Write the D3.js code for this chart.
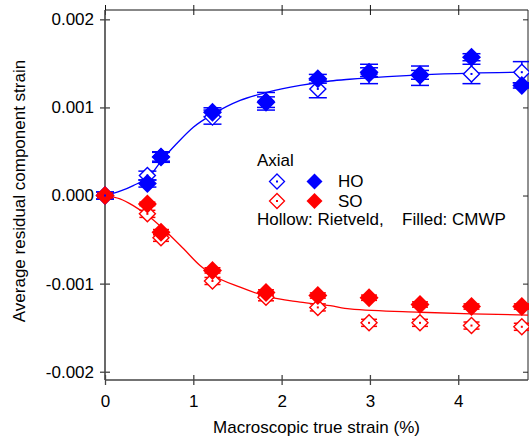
<!DOCTYPE html>
<html>
<head>
<meta charset="utf-8">
<script src="https://cdn.jsdelivr.net/npm/d3@7"></script>
<style>
  html, body { margin: 0; padding: 0; background: #fff; }
  svg { display: block; font-family: "Liberation Sans", Arial, Helvetica, sans-serif; }
</style>
</head>
<body>
<svg id="chart" width="529" height="440"></svg>
<script>
// Macroscopic true strain (%) at each measurement step
const strain = [0, 0.48, 0.634, 1.217, 1.823, 2.41, 2.99, 3.567, 4.15, 4.72];

// Average residual component strain, axial direction
const hoRietveld = [0, 0.000227, 0.00044, 0.00089, 0.00107, 0.00121, 0.00138, 0.00136, 0.00138, 0.0014];
const hoRietveldErr = [0.00004, 0.00005, 0.00005, 0.00008, 0.0001, 0.0001, 0.00011, 0.00011, 0.00011, 0.00012];
const hoCmwp = [0, 0.000136, 0.000437, 0.000946, 0.00106, 0.001325, 0.0014, 0.00137, 0.00157, 0.00125];
const hoCmwpErr = [0.00004, 0.00004, 0.00006, 0.00005, 0.00006, 0.00005, 0.00005, 0.00005, 0.00004, 0.00003];

const soRietveld = [0, -0.000208, -0.00048, -0.00097, -0.001155, -0.00127, -0.001445, -0.001445, -0.001476, -0.00149];
const soRietveldErr = [0.00003, 0.00004, 0.00004, 0.00004, 0.00004, 0.00004, 0.00004, 0.00004, 0.00004, 0.00004];
const soCmwp = [0, -0.000095, -0.000416, -0.00085, -0.0011, -0.001135, -0.00116, -0.001237, -0.00126, -0.00126];
const soCmwpErr = [0.00002, 0.00002, 0.00003, 0.00003, 0.00003, 0.00003, 0.00003, 0.00003, 0.00003, 0.00003];

// Fitted trend curves
const hoFitX = [0, 0.17, 0.32, 0.51, 0.64, 0.81, 1.0, 1.227, 1.53, 1.83, 2.21, 2.55, 2.77, 3.2, 3.57, 4.15, 4.79];
const hoFitY = [0, 0.000049, 0.000113, 0.000227, 0.000397, 0.000587, 0.000775, 0.000927, 0.00108, 0.00117, 0.00125, 0.0013, 0.00132, 0.00135, 0.00137, 0.00139, 0.0014];
const soFitX = [0, 0.17, 0.32, 0.51, 0.70, 0.89, 1.076, 1.227, 1.53, 1.83, 2.21, 2.55, 2.77, 3.57, 4.15, 4.79];
const soFitY = [0, -0.0000375, -0.000114, -0.000246, -0.000416, -0.000605, -0.000795, -0.000908, -0.00104, -0.001146, -0.00121, -0.00125, -0.001287, -0.001325, -0.001343, -0.001357];

// Axis ticks
const xTicks = [0, 1, 2, 3, 4];
const yTicks = [-0.002, -0.001, 0, 0.001, 0.002];

const BLUE = "#0000ff", RED = "#ff0000";
const mLeft = 105, mRight = 528, mTop = 10, mBottom = 380;

const svg = d3.select("#chart");
const x = d3.scaleLinear().domain([0, 4.79]).range([mLeft, mRight]);
const y = d3.scaleLinear().domain([-0.002094, 0.002106]).range([mBottom, mTop]);

const fmt = d => d3.format(".3f")(d).replace("\u2212", "-");

// frame and ticks
function styleAxis(g, color, width) {
  g.select(".domain").remove();
  g.selectAll(".tick line").attr("stroke", color).attr("stroke-width", width);
  g.selectAll("text").attr("font-size", 17).attr("fill", "#000").attr("font-family", null);
}
const axes = svg.append("g");

axes.append("g").attr("transform", `translate(${mLeft},0)`)
  .call(d3.axisLeft(y).tickValues(yTicks).tickSize(5).tickPadding(6).tickFormat(fmt))
  .call(g => styleAxis(g, "#444", 1.3));
axes.append("g").attr("transform", `translate(${mLeft},0)`)
  .call(d3.axisRight(y).tickValues(yTicks).tickSize(5).tickFormat(""))
  .call(g => styleAxis(g, "#444", 1.3));
axes.append("g").attr("transform", `translate(${mRight},0)`)
  .call(d3.axisLeft(y).tickValues(yTicks).tickSize(5).tickFormat(""))
  .call(g => styleAxis(g, "#222", 1));

axes.append("g").attr("transform", `translate(0,${mBottom})`)
  .call(d3.axisBottom(x).tickValues(xTicks).tickSize(5).tickPadding(10).tickFormat(d3.format("d")))
  .call(g => styleAxis(g, "#444", 1.3));
axes.append("g").attr("transform", `translate(0,${mBottom})`)
  .call(d3.axisTop(x).tickValues(xTicks).tickSize(5).tickFormat(""))
  .call(g => styleAxis(g, "#444", 1.3));
axes.append("g").attr("transform", `translate(0,${mTop})`)
  .call(d3.axisTop(x).tickValues(xTicks).tickSize(5).tickFormat(""))
  .call(g => styleAxis(g, "#111", 1));
axes.append("g").attr("transform", `translate(0,${mTop})`)
  .call(d3.axisBottom(x).tickValues(xTicks).tickSize(5).tickFormat(""))
  .call(g => styleAxis(g, "#111", 1));

axes.append("line").attr("x1", mLeft).attr("x2", mRight).attr("y1", mTop).attr("y2", mTop)
  .attr("stroke", "#111").attr("stroke-width", 1);
axes.append("line").attr("x1", mRight).attr("x2", mRight).attr("y1", mTop).attr("y2", mBottom)
  .attr("stroke", "#222").attr("stroke-width", 1);
axes.append("line").attr("x1", mLeft).attr("x2", mLeft).attr("y1", mTop).attr("y2", mBottom)
  .attr("stroke", "#444").attr("stroke-width", 1.6);
axes.append("line").attr("x1", mLeft).attr("x2", mRight).attr("y1", mBottom).attr("y2", mBottom)
  .attr("stroke", "#444").attr("stroke-width", 1.6);

// axis titles
svg.append("text").attr("x", (mLeft + mRight) / 2).attr("y", 433)
  .attr("text-anchor", "middle").attr("font-size", 17).text("Macroscopic true strain (%)");
svg.append("text").attr("transform", "translate(25,191) rotate(-90)")
  .attr("text-anchor", "middle").attr("font-size", 17).text("Average residual component strain");

// fitted curves
const plot = svg.append("g");
const line = d3.line().x(d => x(d[0])).y(d => y(d[1])).curve(d3.curveMonotoneX);
plot.append("path").datum(d3.zip(soFitX, soFitY)).attr("d", line)
  .attr("fill", "none").attr("stroke", RED).attr("stroke-width", 1.3);
plot.append("path").datum(d3.zip(hoFitX, hoFitY)).attr("d", line)
  .attr("fill", "none").attr("stroke", BLUE).attr("stroke-width", 1.3);

// marker helpers
const diamond = r => `M0,${-r}L${r},0L0,${r}L${-r},0Z`;

function errorBars(values, errs, color, capHalf) {
  const g = plot.append("g").attr("stroke", color).attr("stroke-width", 1.5);
  strain.forEach((s, i) => {
    const cx = x(s), y1 = y(values[i] + errs[i]), y2 = y(values[i] - errs[i]);
    g.append("line").attr("x1", cx).attr("x2", cx).attr("y1", y1).attr("y2", y2);
    g.append("line").attr("x1", cx - capHalf).attr("x2", cx + capHalf).attr("y1", y1).attr("y2", y1);
    g.append("line").attr("x1", cx - capHalf).attr("x2", cx + capHalf).attr("y1", y2).attr("y2", y2);
  });
}
function hollow(values, color) {
  plot.append("g").selectAll("path").data(values).join("path")
    .attr("transform", (v, i) => `translate(${x(strain[i])},${y(v)})`)
    .attr("d", diamond(8)).attr("fill", "#fff").attr("stroke", color).attr("stroke-width", 1.4);
}
function filled(values, color) {
  plot.append("g").selectAll("path").data(values).join("path")
    .attr("transform", (v, i) => `translate(${x(strain[i])},${y(v)})`)
    .attr("d", diamond(9.5)).attr("fill", color);
}
function centreDots(values, color) {
  plot.append("g").selectAll("rect").data(values).join("rect")
    .attr("x", (v, i) => x(strain[i]) - 1).attr("y", v => y(v) - 1)
    .attr("width", 2).attr("height", 2).attr("fill", color);
}

errorBars(hoRietveld, hoRietveldErr, BLUE, 9);
errorBars(hoCmwp, hoCmwpErr, BLUE, 9);
errorBars(soRietveld, soRietveldErr, RED, 8);
errorBars(soCmwp, soCmwpErr, RED, 8);
hollow(soRietveld, RED);
hollow(hoRietveld, BLUE);
filled(hoCmwp, BLUE);
filled(soCmwp, RED);
centreDots(soRietveld, RED);
centreDots(hoRietveld, BLUE);

// legend
const lg = svg.append("g").attr("font-size", 17);
lg.append("text").attr("x", 257).attr("y", 166).text("Axial");
const legendRows = [{ label: "HO", color: BLUE, cy: 181.5 }, { label: "SO", color: RED, cy: 201 }];
legendRows.forEach(r => {
  lg.append("path").attr("transform", `translate(277,${r.cy})`).attr("d", diamond(7.5))
    .attr("fill", "#fff").attr("stroke", r.color).attr("stroke-width", 1.3);
  lg.append("rect").attr("x", 276).attr("y", r.cy - 1).attr("width", 2).attr("height", 2).attr("fill", r.color);
  lg.append("path").attr("transform", `translate(314.5,${r.cy})`).attr("d", diamond(8)).attr("fill", r.color);
  lg.append("text").attr("x", 338).attr("y", r.cy + 5.5).text(r.label);
});
lg.append("text").attr("x", 257).attr("y", 225).text("Hollow: Rietveld,");
lg.append("text").attr("x", 402).attr("y", 225).text("Filled: CMWP");
</script>
</body>
</html>
